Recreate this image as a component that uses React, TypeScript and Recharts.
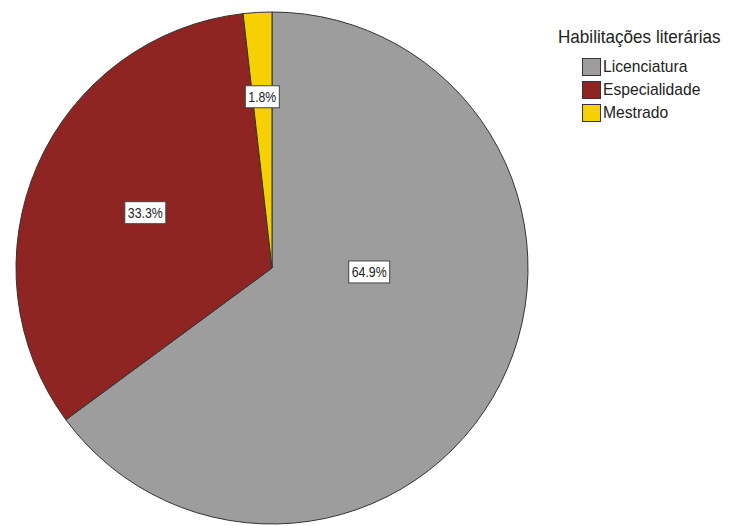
import React from 'react';
import { PieChart, Pie, Cell, Legend } from 'recharts';

const categories = ['Licenciatura', 'Especialidade', 'Mestrado'];
const percents = [64.9, 33.3, 1.8];
const colors = ['#9d9d9d', '#8e2523', '#f6d000'];

const legendTitle = 'Habilitações literárias';

const FONT = "'Liberation Sans', Arial, sans-serif";

const data = categories.map((name, i) => ({ name, value: percents[i] }));

// where each label box sits, as a fraction of the radius plus an angle nudge
const labelPlacement = [
  { ratio: 0.38, angleShift: 24.5 },
  { ratio: 0.54, angleShift: 0 },
  { ratio: 0.67, angleShift: 0 },
];

const RADIAN = Math.PI / 180;

const renderLabel = (props: any) => {
  const { cx, cy, midAngle, outerRadius, index, value } = props;
  const p = labelPlacement[index];
  const a = (midAngle + p.angleShift) * RADIAN;
  const r = outerRadius * p.ratio;
  const x = cx + r * Math.cos(a);
  const y = cy - r * Math.sin(a);
  const text = `${value.toFixed(1)}%`;
  const w = text.length * 7 + 6;
  const h = 22;
  return (
    <g>
      <rect x={x - w / 2} y={y - h / 2} width={w} height={h} fill="#ffffff" stroke="#444" strokeWidth={1} />
      <text
        x={x}
        y={y + 1}
        textAnchor="middle"
        dominantBaseline="middle"
        fontSize={15}
        fontFamily={FONT}
        fill="#222"
        textLength={w - 6}
        lengthAdjust="spacingAndGlyphs"
      >
        {text}
      </text>
    </g>
  );
};

const LegendBox = () => (
  <div style={{ fontFamily: FONT, color: '#222', whiteSpace: 'nowrap' }}>
    <div
      style={{
        fontSize: 19,
        lineHeight: '22px',
        marginBottom: 8,
        transform: 'scaleX(0.9)',
        transformOrigin: 'left center',
      }}
    >
      {legendTitle}
    </div>
    {categories.map((c, i) => (
      <div key={c} style={{ display: 'flex', alignItems: 'center', marginLeft: 24, height: 22, marginTop: 1 }}>
        <span
          style={{
            display: 'inline-block',
            width: 17,
            height: 16,
            background: colors[i],
            border: '1px solid #333',
            marginRight: 2,
            flex: 'none',
          }}
        />
        <span
          style={{
            fontSize: 17,
            display: 'inline-block',
            transform: 'scaleX(0.92)',
            transformOrigin: 'left center',
          }}
        >
          {c}
        </span>
      </div>
    ))}
  </div>
);

export default function App() {
  return (
    <div style={{ position: 'absolute', left: 0, top: 0, width: 733, height: 526, background: '#fff' }}>
      <PieChart width={733} height={526} margin={{ top: 0, right: 0, bottom: 0, left: 0 }}>
        <Pie
          data={data}
          dataKey="value"
          nameKey="name"
          cx={272}
          cy={268}
          outerRadius={256}
          startAngle={90}
          endAngle={-270}
          stroke="#333"
          strokeWidth={1}
          label={renderLabel}
          labelLine={false}
          isAnimationActive={false}
        >
          {data.map((d, i) => (
            <Cell key={d.name} fill={colors[i]} />
          ))}
        </Pie>
        <Legend
          content={<LegendBox />}
          wrapperStyle={{ position: 'absolute', left: 558, top: 26, width: 175 }}
        />
      </PieChart>
    </div>
  );
}
